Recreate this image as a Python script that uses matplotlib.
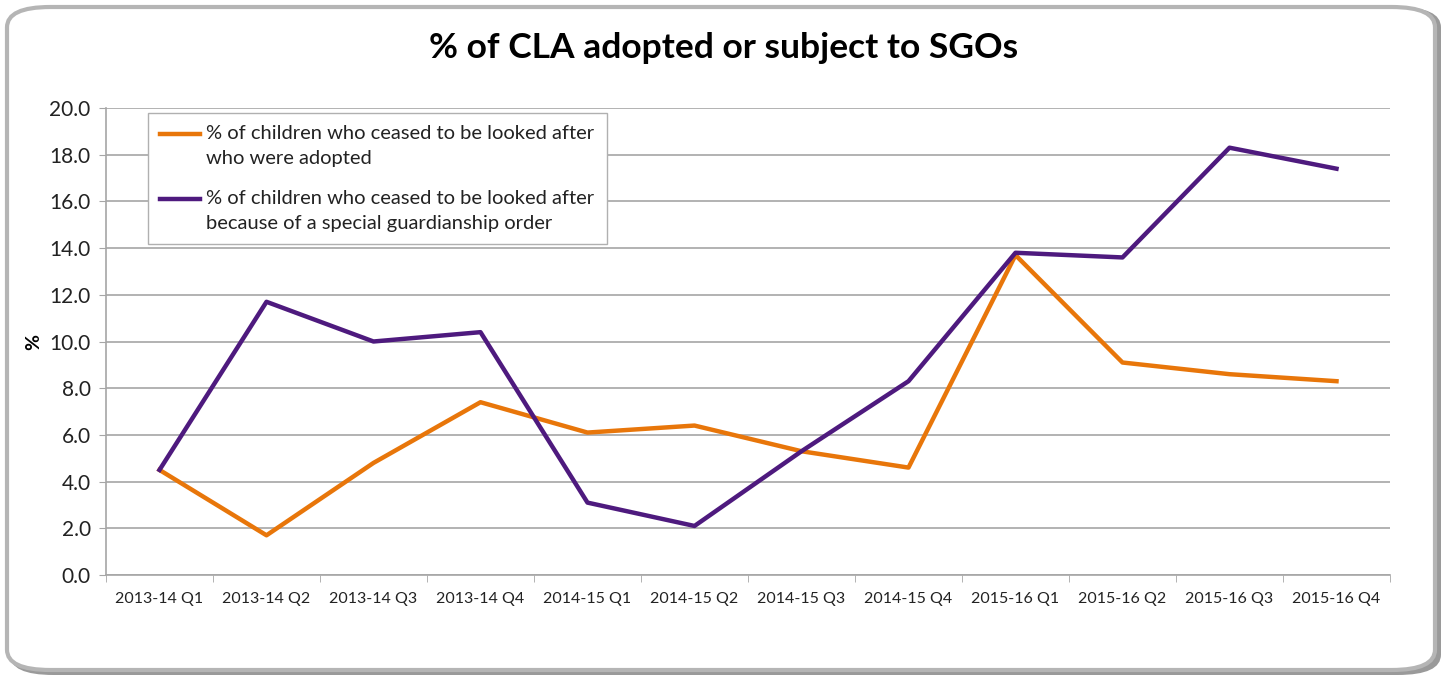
import numpy as np
import matplotlib
matplotlib.use("Agg")
from matplotlib import pyplot as plt
from matplotlib.patches import FancyBboxPatch
from matplotlib.legend_handler import HandlerLine2D

plt.rcParams['font.family'] = ['Lato', 'DejaVu Sans']

# data
quarters = ['2013-14 Q1', '2013-14 Q2', '2013-14 Q3', '2013-14 Q4',
            '2014-15 Q1', '2014-15 Q2', '2014-15 Q3', '2014-15 Q4',
            '2015-16 Q1', '2015-16 Q2', '2015-16 Q3', '2015-16 Q4']
adopted = [4.5, 1.7, 4.8, 7.4, 6.1, 6.4, 5.3, 4.6, 13.7, 9.1, 8.6, 8.3]
sgo = [4.5, 11.7, 10.0, 10.4, 3.1, 2.1, 5.3, 8.3, 13.8, 13.6, 18.3, 17.4]
label_adopted = '% of children who ceased to be looked after\nwho were adopted'
label_sgo = '% of children who ceased to be looked after\nbecause of a special guardianship order'
yticks = np.arange(0, 20.1, 2.0)


class FirstLineHandler(HandlerLine2D):
    # put the legend line next to the first text line, like Excel does
    def create_artists(self, legend, orig_handle, xdescent, ydescent,
                       width, height, fontsize, trans):
        artists = super().create_artists(legend, orig_handle, xdescent, ydescent,
                                         width, height, fontsize, trans)
        for a in artists:
            a.set_ydata(np.asarray(a.get_ydata()) + 8.5)
        return artists


W, H = 1447, 678
fig = plt.figure(figsize=(W / 100, H / 100), dpi=100)

# rounded frame with a soft shadow
shadow = FancyBboxPatch((10 / W, 3 / H), (W - 16) / W, (H - 10) / H,
                        boxstyle="round,pad=0,rounding_size=0.03",
                        transform=fig.transFigure, facecolor='#9a9a9a',
                        edgecolor='none', zorder=0)
frame = FancyBboxPatch((7 / W, 8 / H), (W - 19) / W, (H - 15) / H,
                       boxstyle="round,pad=0,rounding_size=0.03",
                       transform=fig.transFigure, facecolor='white',
                       edgecolor='#b5b5b5', linewidth=3, zorder=1)
fig.patches.extend([shadow, frame])

ax = fig.add_axes([106 / W, 1 - 575 / H, (1390 - 106) / W, (575 - 108) / H])
ax.set_zorder(2)
ax.patch.set_alpha(0)

x = np.arange(len(quarters))
ax.plot(x, adopted, color='#E8760A', lw=3.2, label=label_adopted, zorder=3)
ax.plot(x, sgo, color='#4E1A7E', lw=3.2, label=label_sgo, zorder=4)

ax.set_xlim(-0.5, len(quarters) - 0.5)
ax.set_ylim(0, 20)
ax.set_yticks(yticks)
ax.set_yticklabels([f'{v:.1f}' for v in yticks], fontsize=15, color='#222222')
ax.yaxis.grid(True, color='#a6a6a6', lw=1.2)
ax.set_axisbelow(True)

ax.set_xticks(x)
ax.set_xticklabels(quarters, fontsize=11.5, color='#222222')
ax.set_xticks(np.arange(-0.5, len(quarters)), minor=True)
ax.tick_params(axis='x', which='major', length=0, pad=12)
ax.tick_params(axis='x', which='minor', length=5, color='#a6a6a6')
ax.tick_params(axis='y', length=5, color='#a6a6a6', pad=6)

for side in ['top', 'right']:
    ax.spines[side].set_visible(False)
ax.spines['left'].set_color('#a6a6a6')
ax.spines['bottom'].set_color('#a6a6a6')
ax.spines['left'].set_linewidth(1.2)
ax.spines['bottom'].set_linewidth(1.2)

ax.set_ylabel('%', fontsize=14, fontweight='bold', labelpad=5)

fig.text(0.5, 1 - 48 / H, '% of CLA adopted or subject to SGOs',
         ha='center', va='center', fontsize=25.5, fontweight='bold')

leg = ax.legend(loc='upper left', bbox_to_anchor=(42 / (1390 - 106), 1 - 5 / 467),
                borderaxespad=0, fontsize=14.5, frameon=True, fancybox=False,
                handlelength=2.0, handletextpad=0.3, labelspacing=1.1,
                borderpad=0.6, edgecolor='#b0b0b0', framealpha=1,
                handler_map={plt.Line2D: FirstLineHandler()})
leg.get_frame().set_linewidth(1.0)
for t in leg.get_texts():
    t.set_color('#222222')
    t.set_linespacing(1.6)

fig.savefig('out.png', dpi=100)
